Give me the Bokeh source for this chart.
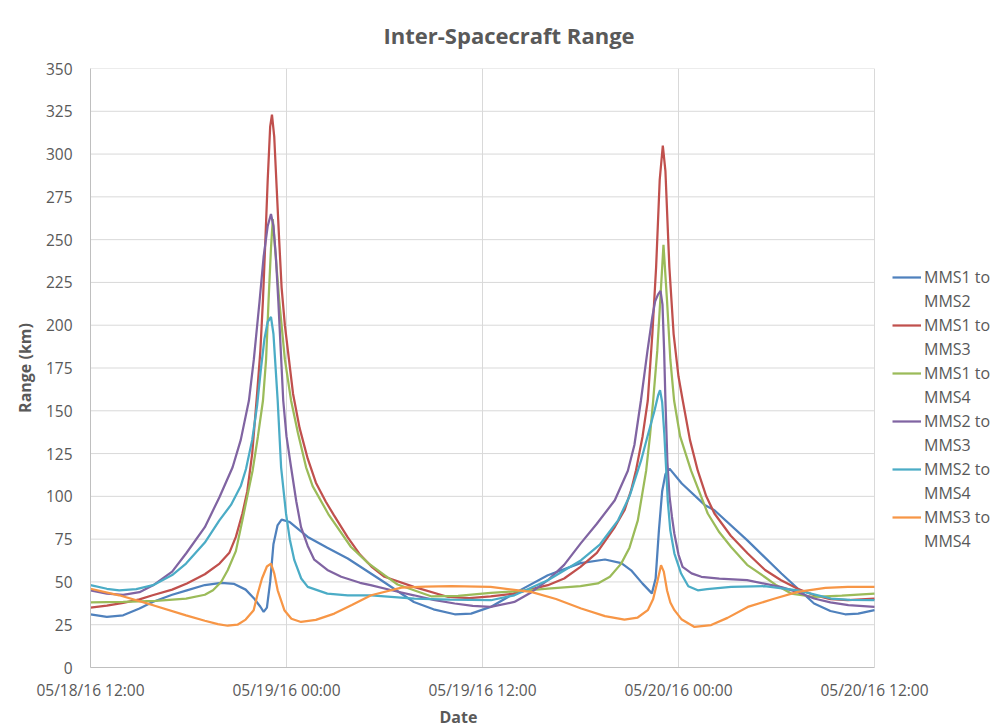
import pandas as pd
from bokeh.plotting import figure
from bokeh.models import (FixedTicker, DatetimeTickFormatter, Legend, LegendItem, Range1d, Title)
from bokeh.embed import file_html
from bokeh.resources import INLINE

# ---------------- data ----------------
START = pd.Timestamp("2016-05-18 12:00")
EPOCH = pd.Timestamp("1970-01-01")

x_tick_hours = [0, 12, 24, 36, 48]
y_ticks = [0, 25, 50, 75, 100, 125, 150, 175, 200, 225, 250, 275, 300, 325, 350]

series_labels = [("MMS1 to", "MMS2"), ("MMS1 to", "MMS3"), ("MMS1 to", "MMS4"),
                 ("MMS2 to", "MMS3"), ("MMS2 to", "MMS4"), ("MMS3 to", "MMS4")]

# hours since 05/18/16 12:00 and range (km)
mms12_h = [0, 1.0, 2.0, 3.0, 3.8, 5.0, 5.9, 7.0, 8.0, 8.8, 9.5, 10.0, 10.4, 10.6, 10.8, 11.0, 11.2,
           11.45, 11.7, 12.2, 13.3, 14.5, 15.75, 17.8, 19.8, 21.0, 22.3, 23.3, 24.5, 26.0, 28.0,
           30.0, 31.5, 32.5, 33.1, 33.8, 34.37, 34.6, 34.8, 35.0, 35.2, 35.45, 36.2, 37.6, 38.2,
           40.2, 42.3, 44.3, 45.3, 46.2, 47.0, 48.0]
mms12_v = [31, 29.6, 30.5, 34.5, 38.3, 42.5, 45.1, 48.2, 49.4, 48.8, 45.5, 40.5, 35.5, 32.5, 35,
           50, 72, 83, 86.4, 85, 76.3, 70, 63.7, 51, 38.3, 34, 31.1, 31.5, 35.4, 43.6, 53.9,
           61, 63.1, 61, 56.8, 49, 43.3, 52, 80, 103, 113, 116.2, 107.5, 95, 91.9,
           74.4, 54.9, 37.4, 33, 31.1, 31.5, 33.5]

mms13_h = [0, 1, 2, 3, 3.8, 5, 5.9, 7, 7.9, 8.5, 8.9, 9.3, 9.6, 9.9, 10.2, 10.4, 10.56, 10.7,
           10.85, 11.0, 11.11, 11.25, 11.4, 11.55, 11.7, 11.9, 12.15, 12.4, 12.8, 13.3, 13.8, 14.4,
           14.9, 15.75, 16.5, 17.2, 18.0, 19.8, 21.9, 23.2, 24.5, 25.9, 28.0, 29.0, 30.0, 31.0,
           32.1, 32.7, 33.1, 33.4, 33.8, 34.12, 34.4, 34.63, 34.85, 35.04, 35.2, 35.44, 35.7,
           36.0, 36.26, 36.7, 37.18, 37.7, 38.2, 39.2, 40.24, 41.3, 42.28, 43.3, 44.32, 45.3,
           46.37, 48]
mms13_v = [35, 36.2, 37.8, 39.8, 42.2, 45.5, 49.1, 54.5, 60.7, 67, 76.3, 90, 103, 125, 160, 185,
           215, 248, 285, 316, 323, 310, 280, 250, 222, 200, 180, 160, 140, 122, 108, 97,
           89, 76, 66, 59, 53, 47.1, 41.2, 40.5, 41.5, 43.2, 48.1, 52, 58.8, 67,
           82.1, 92, 103.6, 115.3, 135, 156, 195, 234, 285, 305, 290, 234, 195,
           170, 156, 133, 115, 100, 90, 77, 66.6, 57, 51, 46, 42.2, 40,
           39.3, 40.3]

mms14_h = [0, 2, 4, 5.85, 7.0, 7.5, 8.0, 8.4, 8.9, 9.3, 9.6, 9.93, 10.25, 10.56, 10.75, 10.9,
           11.05, 11.16, 11.3, 11.56, 11.9, 12.28, 12.7, 13.2, 13.6, 14.6, 15.95, 17.0, 18.0,
           18.8, 20.85, 22.5, 24.5, 26.0, 28.0, 30.0, 31.06, 31.8, 32.49, 33.0, 33.51, 34.02,
           34.25, 34.45, 34.7, 34.88, 35.08, 35.3, 35.5, 35.73, 36.1, 36.77, 37.79, 38.5, 39.22,
           40.2, 41.28, 42.0, 42.9, 44.32, 46.0, 48.0]
mms14_v = [38, 38.3, 39.0, 40.3, 42.5, 45.1, 50, 56.8, 68, 86, 100, 115.3, 135, 156, 180, 214,
           245, 262, 245, 214, 180, 156, 137, 117, 106, 89, 70.4, 61, 54,
           48.5, 41.6, 41.8, 43.6, 44.5, 46.1, 47.5, 49.1, 53, 60.7, 70, 86, 115,
           135, 156, 185, 214, 247, 214, 180, 156, 135, 115, 90, 79, 70.4,
           60, 52.9, 48, 43.2, 41.2, 42, 43.2]

mms23_h = [0, 1, 2, 3, 3.83, 5.0, 5.85, 7.0, 7.9, 8.7, 9.2, 9.7, 10.0, 10.35, 10.6, 10.85, 11.05,
           11.2, 11.35, 11.5, 11.65, 11.8, 12.0, 12.28, 12.6, 12.89, 13.3, 13.7, 14.5, 15.35,
           16.5, 17.15, 18.5, 19.8, 21.0, 22.3, 23.4, 24.5, 25.95, 27.0, 28.0, 29.0, 30.0, 31.0,
           32.1, 32.9, 33.3, 33.7, 34.1, 34.4, 34.57, 34.75, 34.9, 35.02, 35.12, 35.2, 35.32,
           35.45, 35.6, 35.75, 36.0, 36.25, 36.8, 37.4, 38.5, 40.2, 42.3, 43.3, 44.3, 45.3,
           46.4, 48.0]
mms23_v = [45, 43.2, 42.5, 44, 48, 56, 66.6, 82, 99.6, 117, 133, 156, 180, 214, 240, 258, 265,
           258, 240, 214, 185, 156, 135, 117, 97, 82, 71, 63, 57, 53,
           49.5, 48.1, 45, 42.2, 39.5, 37.4, 36, 35.4, 38.3, 44, 51, 60, 72.4, 84,
           97.7, 115, 130, 156, 185, 205, 214, 218, 220, 212, 185, 156, 120,
           100, 88, 78, 66, 58.8, 55, 53, 52, 51, 47, 44, 40.3, 38,
           36.4, 35.4]

mms24_h = [0, 1, 1.76, 2.8, 3.83, 5.0, 5.85, 7.0, 7.89, 8.6, 9.2, 9.52, 9.9, 10.2, 10.44, 10.65,
           10.85, 11.05, 11.2, 11.3, 11.46, 11.67, 11.97, 12.2, 12.48, 12.9, 13.3, 14.5, 15.75,
           17.18, 19.83, 22.0, 24.52, 25.95, 28.0, 30.04, 31.2, 32.3, 33.0, 33.71, 34.1, 34.53,
           34.75, 34.87, 35.0, 35.13, 35.25, 35.34, 35.5, 35.75, 36.16, 36.6, 37.18, 37.75,
           39.22, 41.26, 43.3, 45.34, 46.5, 48.0]
mms24_v = [48.1, 46, 45.1, 45.8, 48.1, 54, 60.7, 73, 86, 95, 106, 116, 133, 153, 175, 192,
           202, 204.8, 195, 180, 156, 117, 90, 75, 62.7, 52, 47.1, 43.2, 42.2,
           42.2, 40.3, 39.7, 39.3, 42.2, 51, 62.7, 72, 86, 100, 121, 135, 150,
           159, 162, 155, 136.7, 115, 97.7, 80, 66.6, 54.9, 47.5, 45.1, 45.8,
           47.1, 47.5, 45.1, 40.3, 39.5, 39.3]

mms34_h = [0, 1.76, 3.83, 5.85, 7.0, 7.8, 8.4, 9.0, 9.5, 9.99, 10.24, 10.5, 10.8, 11.05, 11.25,
           11.46, 11.87, 12.3, 12.89, 13.8, 14.93, 16.0, 17.18, 19.04, 20.5, 22.1, 24.5, 26.97,
           28.5, 30.04, 31.5, 32.69, 33.5, 34.12, 34.45, 34.7, 34.93, 35.1, 35.3, 35.5, 35.75,
           36.2, 36.98, 38.0, 39.0, 40.24, 41.8, 43.3, 45.0, 46.37, 48.0]
mms34_v = [46, 42.2, 36.4, 30.5, 27.3, 25.3, 24.4, 25, 28, 33.5, 43.2, 52, 59, 60.7, 55,
           45.1, 33.5, 28.5, 26.6, 27.8, 31.5, 36.5, 42.2, 46.7, 47.3, 47.5, 47.1, 44.2,
           40, 34.5, 30, 28, 29.2, 33.5, 40, 50, 59.8, 56, 45, 38, 33.5,
           28, 23.7, 24.8, 29, 35.4, 40, 44.2, 46.5, 47.1, 47.1]

series_hours = [mms12_h, mms13_h, mms14_h, mms23_h, mms24_h, mms34_h]
series_values = [mms12_v, mms13_v, mms14_v, mms23_v, mms24_v, mms34_v]
colors = ["#4F81BD", "#C0504D", "#9BBB59", "#8064A2", "#4BACC6", "#F79646"]


def to_ms(hours):
    return [((START + pd.Timedelta(hours=h)) - EPOCH) / pd.Timedelta(milliseconds=1) for h in hours]


TXT = "#595959"
FONT = "Open Sans"
W, H = 997, 728
LEFT, RIGHT = 90, 7
FRAME_W = W - LEFT - RIGHT          # frame extends under the legend area
PLOT_W = 784                        # pixels used by the 48 h of data
x_end_hours = x_tick_hours[-1] * FRAME_W / PLOT_W
x0, x48 = to_ms([x_tick_hours[0]])[0], to_ms([x_tick_hours[-1]])[0]

p = figure(width=W, height=H, x_axis_type="datetime", output_backend="svg",
           toolbar_location=None,
           x_range=Range1d(x0, to_ms([x_end_hours])[0]), y_range=Range1d(0, 350),
           min_border_left=LEFT, min_border_right=RIGHT, min_border_top=68, min_border_bottom=61)

p.title.text = "Inter-Spacecraft Range"
p.title.align = "left"
p.title.offset = 293
p.title.vertical_align = "top"
p.title.text_font = FONT
p.title.text_font_size = "22px"
p.title.text_font_style = "bold"
p.title.text_color = TXT
p.title.standoff = 33

p.xaxis.ticker = FixedTicker(ticks=to_ms(x_tick_hours))
fmt = "%m/%d/%y %H:%M"
p.xaxis.formatter = DatetimeTickFormatter(milliseconds=fmt, seconds=fmt, minsec=fmt, minutes=fmt,
                                          hourmin=fmt, hours=fmt, days=fmt, months=fmt, years=fmt)
p.xaxis.bounds = (x0, x48)
p.yaxis.ticker = FixedTicker(ticks=y_ticks)

for ax in (p.xaxis[0], p.yaxis[0]):
    ax.major_tick_in = 0
    ax.major_tick_out = 0
    ax.minor_tick_in = 0
    ax.minor_tick_out = 0
    ax.axis_line_color = "#BFBFBF"
    ax.major_label_text_font = FONT
    ax.major_label_text_font_size = "15.5px"
    ax.major_label_text_color = TXT
    ax.axis_label_text_font = FONT
    ax.axis_label_text_font_size = "16px"
    ax.axis_label_text_font_style = "bold"
    ax.axis_label_text_color = TXT

p.yaxis.axis_label = "Range (km)"
p.xaxis.major_label_standoff = 11
p.yaxis.major_label_standoff = 18
p.yaxis.axis_label_standoff = 7

x_title = Title(text="Date", align="left", offset=349, text_font=FONT, text_font_size="16px",
                text_font_style="bold", text_color=TXT, standoff=0)
p.add_layout(x_title, "below")

p.xgrid.grid_line_color = "#D9D9D9"
p.ygrid.visible = False
p.outline_line_color = None

# horizontal gridlines limited to the 48 h data span
p.segment(x0=[x0] * len(y_ticks), y0=y_ticks, x1=[x48] * len(y_ticks), y1=y_ticks,
          line_color="#D9D9D9", line_width=1, level="underlay")

items = []
for hrs, vals, col, (l1, l2) in zip(series_hours, series_values, colors, series_labels):
    r = p.line(to_ms(hrs), vals, line_color=col, line_width=2.25)
    dummy = p.line([], [], line_color=col, line_alpha=0)
    items.append(LegendItem(label=l1, renderers=[r]))
    items.append(LegendItem(label=l2, renderers=[dummy]))

legend = Legend(items=items, location=(802, 115), margin=0, padding=0,
                border_line_color=None, background_fill_alpha=0,
                glyph_width=29, glyph_height=20, label_height=20, spacing=2,
                label_standoff=3, label_text_font=FONT, label_text_font_size="16px",
                label_text_color=TXT)
p.add_layout(legend, "center")

open("out.html", "w").write(file_html(p, INLINE))
